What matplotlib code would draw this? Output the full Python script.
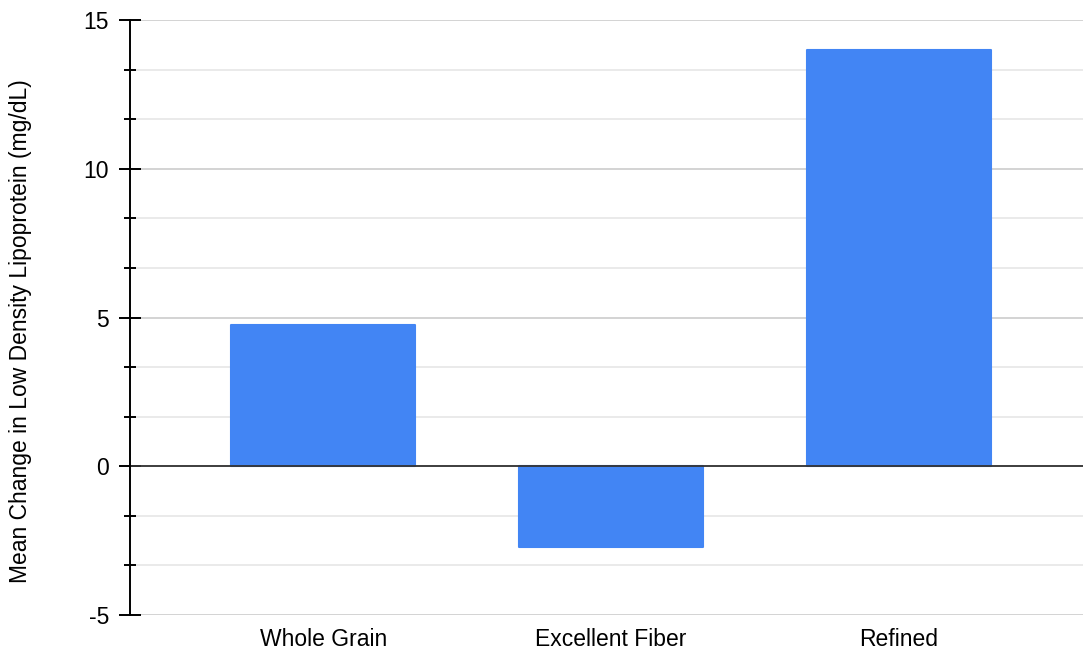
import numpy as np
import matplotlib.pyplot as plt
from matplotlib.ticker import MultipleLocator

categories = ['Whole Grain', 'Excellent Fiber', 'Refined']
mean_change = [4.75, -2.7, 14.0]
y_ticks = [-5, 0, 5, 10, 15]

plt.rcParams['font.family'] = ['Liberation Sans', 'DejaVu Sans']

fig = plt.figure(figsize=(10.83, 6.52), dpi=100)
ax = fig.add_axes([0.120, 0.0567, 0.880, 0.9126])

x = np.arange(len(categories))
bars = ax.bar(x, mean_change, width=0.64, color='#4285f4', edgecolor='#4285f4',
              linewidth=1.5, zorder=3)
for b in bars:
    b.set_joinstyle('round')

ax.set_xlim(-0.672, 2.64)
ax.set_ylim(-5, 15)
ax.set_yticks(y_ticks)
ax.set_yticklabels([str(v) for v in y_ticks])
ax.yaxis.set_minor_locator(MultipleLocator(5 / 3))
ax.set_xticks(x)
ax.set_xticklabels(categories)

ax.grid(axis='y', which='major', color='#cccccc', linewidth=1.2, zorder=0)
ax.grid(axis='y', which='minor', color='#e6e6e6', linewidth=1.2, zorder=0)
ax.axhline(0, color='#333333', linewidth=1.3, zorder=4)

for s in ['top', 'right', 'bottom']:
    ax.spines[s].set_visible(False)
ax.spines['left'].set_linewidth(1.4)
ax.spines['left'].set_zorder(5)

ax.tick_params(axis='y', which='major', direction='inout', length=16, width=1.4,
               labelsize=16.5, pad=7)
ax.tick_params(axis='y', which='minor', direction='inout', length=8, width=1.4)
ax.tick_params(axis='x', length=0, labelsize=16.5, pad=9)

ax.set_ylabel('Mean Change in Low Density Lipoprotein (mg/dL)', fontsize=16.5)
ax.yaxis.set_label_coords(-0.103, 0.477)

fig.savefig('out.png', dpi=100)
